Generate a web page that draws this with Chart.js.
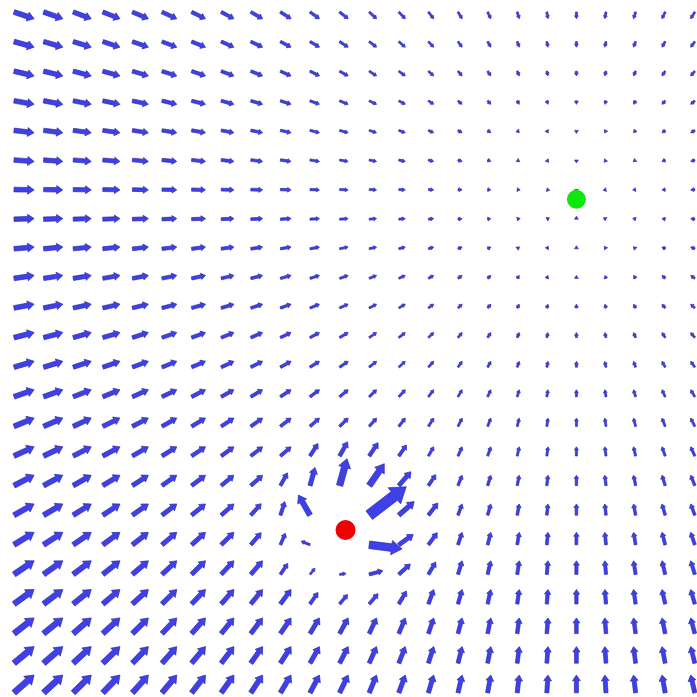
<!DOCTYPE html>
<html>
<head>
<meta charset="utf-8">
<script src="https://cdn.jsdelivr.net/npm/chart.js@4.4.1/dist/chart.umd.min.js"></script>
<style>
html,body{margin:0;padding:0;background:#ffffff;overflow:hidden}
#wrap{width:697px;height:697px;position:relative}
</style>
</head>
<body>
<div id="wrap"><canvas id="c"></canvas></div>
<script>
// Grid of arrow tails (column / row coordinates, y upward)
const columnX = [0,1,2,3,4,5,6,7,8,9,10,11,12,13,14,15,16,17,18,19,20,21,22,23];
const rowY    = [0,1,2,3,4,5,6,7,8,9,10,11,12,13,14,15,16,17,18,19,20,21,22,23];

// Horizontal component of the field, by column
const uByColumn = [0.68,0.65,0.61,0.58,0.54,0.50,0.47,0.43,0.40,0.36,0.32,0.29,
                   0.25,0.22,0.18,0.14,0.11,0.07,0.04,0.00,-0.04,-0.07,-0.11,-0.14];
// Vertical component of the field, by row (bottom row first)
const vByRow = [0.60,0.56,0.53,0.49,0.46,0.42,0.38,0.35,0.31,0.28,0.24,0.20,
                0.17,0.13,0.10,0.06,0.02,-0.01,-0.05,-0.08,-0.12,-0.16,-0.19,-0.23];

// Arrows around the obstacle that differ from the plain field
const nearX = [10,11,12,13, 9,10,11,12,13,14, 8,9,10,11,12,13,14, 8,9,10,11,12,13,14, 9,10,11,12,13,14, 10,11,12,13];
const nearY = [8,8,8,8, 7,7,7,7,7,7, 6,6,6,6,6,6,6, 5,5,5,5,5,5,5, 4,4,4,4,4,4, 3,3,3,3];
const nearU = [0.27,0.27,0.30,0.26, 0.24,0.17,0.25,0.51,0.41,0.25, 0.35,0.15,-0.39,0,1.25,0.52,0.32,
               0.35,0.17,-0.30,0,1.11,0.49,0.30, 0.25,0.17,0.22,0.46,0.39,0.25, 0.27,0.27,0.30,0.26];
const nearV = [0.42,0.48,0.45,0.37, 0.43,0.61,0.91,0.74,0.47,0.37, 0.39,0.46,0.68,0,0.96,0.46,0.41,
               0.41,0.39,0.12,0,-0.14,0.35,0.41, 0.37,0.21,0.03,0.12,0.35,0.42, 0.39,0.32,0.35,0.44];

const goalPoint = [19, 16.67];
const obstaclePoint = [11.2, 5.5];

// Build the point table
const arrowPoints = [];
for (const y of rowY) {
  for (let i = 0; i < columnX.length; i++) {
    arrowPoints.push({x: columnX[i], y: y, u: uByColumn[i], v: vByRow[y]});
  }
}
for (let k = 0; k < nearX.length; k++) {
  const p = arrowPoints.find(q => q.x === nearX[k] && q.y === nearY[k]);
  if (p) { p.u = nearU[k]; p.v = nearV[k]; }
}

function drawArrow(ctx, x0, y0, x1, y1) {
  const dx = x1 - x0, dy = y1 - y0;
  const L = Math.hypot(dx, dy);
  if (L < 1e-6) return;
  const ux = dx / L, uy = dy / L;
  const nx = -uy, ny = ux;
  const Ld = Math.max(L, 3);
  const hl = Math.max(0.32 * Ld, 3);
  const hw = Math.max(0.44 * Ld, 3.8) / 2;
  const sw = Math.max(0.23 * Ld, 2.0) / 2;
  const sl = Math.max(Ld - hl, 0);
  const tx = x0 + ux * Ld, ty = y0 + uy * Ld;
  const bx = x0 + ux * sl, by = y0 + uy * sl;
  ctx.beginPath();
  ctx.moveTo(x0 + nx * sw, y0 + ny * sw);
  ctx.lineTo(bx + nx * sw, by + ny * sw);
  ctx.lineTo(bx + nx * hw, by + ny * hw);
  ctx.lineTo(tx, ty);
  ctx.lineTo(bx - nx * hw, by - ny * hw);
  ctx.lineTo(bx - nx * sw, by - ny * sw);
  ctx.lineTo(x0 - nx * sw, y0 - ny * sw);
  ctx.closePath();
  ctx.fill();
  ctx.stroke();
}

const quiverPlugin = {
  id: 'quiver',
  beforeDatasetsDraw(chart) {
    const ctx = chart.ctx;
    const xs = chart.scales.x, ys = chart.scales.y;
    ctx.save();
    ctx.fillStyle = 'rgb(64,64,232)';
    ctx.strokeStyle = 'rgba(36,36,160,0.9)';
    ctx.lineWidth = 0.7;
    ctx.lineJoin = 'round';
    for (const p of chart.data.datasets[0].data) {
      const x0 = xs.getPixelForValue(p.x), y0 = ys.getPixelForValue(p.y);
      const x1 = xs.getPixelForValue(p.x + p.u), y1 = ys.getPixelForValue(p.y + p.v);
      drawArrow(ctx, x0, y0, x1, y1);
    }
    ctx.restore();
  }
};

new Chart(document.getElementById('c'), {
  type: 'scatter',
  data: {
    datasets: [
      {label: 'field', data: arrowPoints, pointRadius: 0, pointHoverRadius: 0},
      {label: 'goal', data: [{x: goalPoint[0], y: goalPoint[1]}], pointRadius: 9.5,
       backgroundColor: 'rgb(12,232,12)', borderWidth: 0},
      {label: 'obstacle', data: [{x: obstaclePoint[0], y: obstaclePoint[1]}], pointRadius: 10,
       backgroundColor: 'rgb(240,0,0)', borderWidth: 0}
    ]
  },
  options: {
    responsive: true,
    maintainAspectRatio: false,
    animation: false,
    layout: {padding: 0, autoPadding: false},
    plugins: {legend: {display: false}, tooltip: {enabled: false}},
    events: [],
    scales: {
      x: {type: 'linear', display: false, min: -0.473, max: 23.074},
      y: {type: 'linear', display: false, min: -0.142, max: 23.405}
    }
  },
  plugins: [quiverPlugin]
});
</script>
</body>
</html>
